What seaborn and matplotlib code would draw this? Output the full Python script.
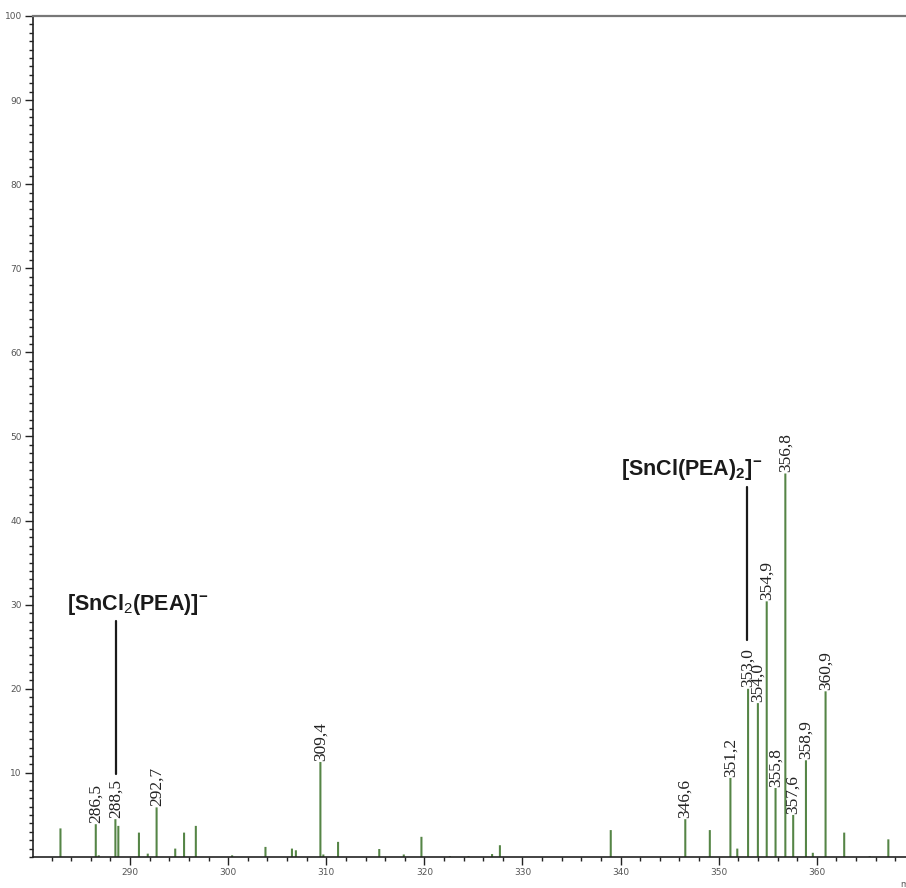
import pandas as pd
import seaborn as sns
import matplotlib.pyplot as plt
from matplotlib.ticker import MultipleLocator

# Peak list (m/z, relative intensity %)
mz = [282.9, 286.5, 286.8, 288.5, 288.8, 290.9, 291.8, 292.7, 294.6, 295.5,
      296.7, 300.4, 303.8, 306.5, 306.9, 309.4, 309.7, 311.2, 315.4, 317.9,
      319.7, 322.6, 324.5, 326.9, 327.7, 339.0, 346.6, 349.1, 351.2, 351.9,
      353.0, 354.0, 354.9, 355.8, 356.8, 357.6, 358.9, 359.6, 360.9, 362.8,
      365.4, 367.3]
intensity = [3.4, 3.9, 0.2, 4.5, 3.7, 2.9, 0.4, 5.9, 1.0, 2.9,
             3.7, 0.2, 1.2, 1.0, 0.8, 11.3, 0.3, 1.8, 0.95, 0.3,
             2.4, 0.1, 0.1, 0.35, 1.4, 3.2, 4.5, 3.2, 9.4, 1.0,
             20.0, 18.3, 30.4, 8.2, 45.6, 5.0, 11.5, 0.5, 19.7, 2.9,
             0.1, 2.1]

# peaks that carry an m/z label
labelled = [286.5, 288.5, 292.7, 309.4, 346.6, 351.2, 353.0, 354.0, 354.9,
            355.8, 356.8, 357.6, 358.9, 360.9]

df = pd.DataFrame({"mz": mz, "intensity": intensity})

green = "#4f8f3c"

sns.set_style("ticks")
plt.rcParams["font.family"] = ["DejaVu Sans"]
plt.rcParams["font.serif"] = ["Liberation Serif", "DejaVu Serif"]
plt.rcParams["mathtext.fontset"] = "custom"
plt.rcParams["mathtext.rm"] = "Liberation Sans"
plt.rcParams["mathtext.bf"] = "Liberation Sans:bold"
plt.rcParams["mathtext.it"] = "Liberation Sans"

fig = plt.figure(figsize=(9.06, 8.88), dpi=100)
ax = fig.add_axes([33 / 906, 31 / 888, 873 / 906, 841 / 888])

sns.barplot(data=df, x="mz", y="intensity", native_scale=True, width=0.7,
            color=green, linewidth=0, errorbar=None, ax=ax)
# no pixel snapping, so every stick gets the same width
for p in ax.patches:
    p.set_snap(False)

# peak labels
for x, h in zip(mz, intensity):
    if x in labelled:
        ax.annotate(f"{x:.1f}".replace(".", ","), (x, h), xytext=(0, 1),
                    textcoords="offset points", rotation=90, ha="center",
                    va="bottom", fontsize=12.5, fontfamily="serif",
                    color="#222222")

# ion assignments
ax.text(290.75, 30.0, r"[SnCl$_2$(PEA)]$^{\mathbf{-}}$", fontsize=15.5,
        family="Liberation Sans", fontweight="bold", ha="center", va="center",
        color="#1a1a1a")
ax.plot([288.6, 288.6], [28.1, 9.9], color="#1a1a1a", lw=1.6)

ax.text(347.3, 46.1, r"[SnCl(PEA)$_\mathbf{2}$]$^{\mathbf{-}}$", fontsize=15.5,
        family="Liberation Sans", fontweight="bold", ha="center", va="center",
        color="#1a1a1a")
ax.plot([352.85, 352.85], [44.0, 25.8], color="#1a1a1a", lw=1.6)

ax.set_xlim(280.1, 369.1)
ax.set_ylim(0, 100)
ax.set_xticks(range(290, 370, 10))
ax.set_yticks(range(10, 110, 10))
ax.xaxis.set_minor_locator(MultipleLocator(2))
ax.yaxis.set_minor_locator(MultipleLocator(1))
ax.set_xlabel("")
ax.set_ylabel("")

ax.tick_params(which="major", length=6, width=1, color="#222222",
               labelsize=6.5, labelcolor="#555555", pad=2)
ax.tick_params(which="minor", length=3, width=1, color="#222222")

ax.spines["right"].set_visible(False)
ax.spines["top"].set_color("#777777")
ax.spines["top"].set_linewidth(1.6)
for s in ["left", "bottom"]:
    ax.spines[s].set_color("#222222")
    ax.spines[s].set_linewidth(1.2)

fig.text(0.994, 0.002, "m/z", fontsize=6, color="#555555", ha="left")

plt.savefig("out.png", dpi=100)
